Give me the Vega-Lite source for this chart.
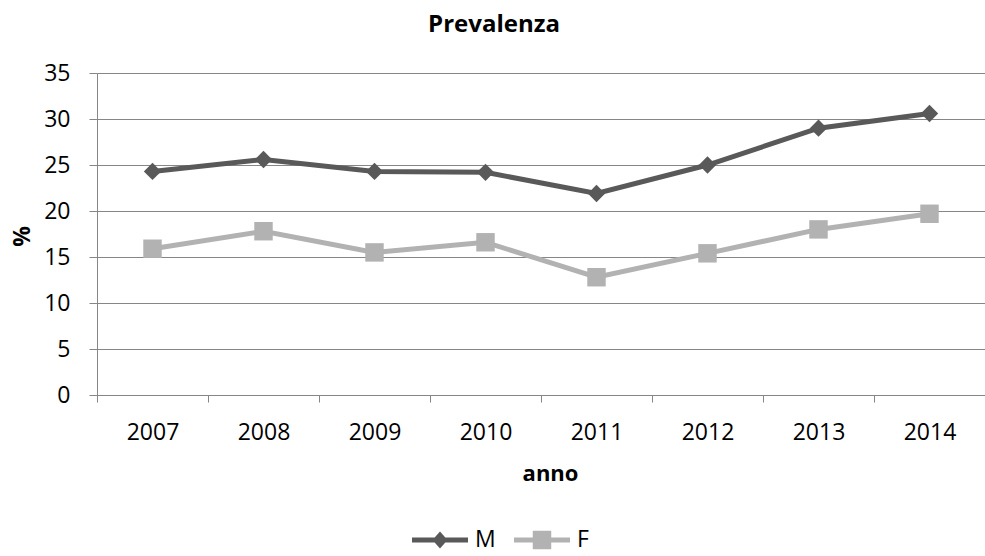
{
  "$schema": "https://vega.github.io/schema/vega-lite/v6.json",
  "autosize": {"type": "none"},
  "width": 888,
  "height": 322,
  "padding": {"left": 97, "top": 73, "right": 0, "bottom": 161},
  "background": "white",
  "title": {
    "text": "Prevalenza",
    "font": "Open Sans",
    "fontSize": 24,
    "fontWeight": "bold",
    "color": "black",
    "anchor": "middle",
    "frame": "group",
    "baseline": "alphabetic",
    "dx": -47,
    "offset": 6
  },
  "data": {
    "values": [
      {"anno": "2007", "serie": "M", "valore": 24.3},
      {"anno": "2008", "serie": "M", "valore": 25.6},
      {"anno": "2009", "serie": "M", "valore": 24.3},
      {"anno": "2010", "serie": "M", "valore": 24.2},
      {"anno": "2011", "serie": "M", "valore": 21.9},
      {"anno": "2012", "serie": "M", "valore": 25.0},
      {"anno": "2013", "serie": "M", "valore": 29.0},
      {"anno": "2014", "serie": "M", "valore": 30.6},
      {"anno": "2007", "serie": "F", "valore": 15.9},
      {"anno": "2008", "serie": "F", "valore": 17.8},
      {"anno": "2009", "serie": "F", "valore": 15.5},
      {"anno": "2010", "serie": "F", "valore": 16.6},
      {"anno": "2011", "serie": "F", "valore": 12.8},
      {"anno": "2012", "serie": "F", "valore": 15.4},
      {"anno": "2013", "serie": "F", "valore": 18.0},
      {"anno": "2014", "serie": "F", "valore": 19.7}
    ]
  },
  "encoding": {
    "x": {
      "field": "anno",
      "type": "ordinal",
      "scale": {"type": "band", "paddingInner": 0, "paddingOuter": 0},
      "axis": {
        "title": "anno",
        "labelAngle": 0,
        "tickBand": "extent",
        "grid": false,
        "tickSize": 7,
        "labelPadding": 19,
        "titleX": 453,
        "titleY": 85,
        "titleAlign": "center",
        "titleBaseline": "alphabetic",
        "titleFontSize": 22
      }
    },
    "y": {
      "field": "valore",
      "type": "quantitative",
      "scale": {"domain": [0, 35], "nice": false},
      "axis": {
        "title": "%",
        "values": [0, 5, 10, 15, 20, 25, 30, 35],
        "grid": true,
        "tickSize": 8,
        "labelPadding": 19,
        "titleX": -75,
        "titleY": 163,
        "titleAngle": -90,
        "titleAlign": "center",
        "titleBaseline": "middle",
        "titleFontSize": 23
      }
    },
    "color": {
      "field": "serie",
      "type": "nominal",
      "scale": {"domain": ["M", "F"], "range": ["#595959", "#b2b2b2"]},
      "legend": {
        "title": null,
        "orient": "none",
        "direction": "horizontal",
        "legendX": 315,
        "legendY": 439,
        "padding": 0,
        "symbolSize": 3136,
        "symbolStrokeWidth": 0,
        "symbolOpacity": 1,
        "labelOffset": 7,
        "columnPadding": 18,
        "labelFont": "Open Sans",
        "labelFontSize": 23,
        "labelColor": "black",
        "encode": {
          "symbols": {
            "update": {
              "shape": {"signal": "datum.value === 'M' ? 'M-1,-0.09L-0.19,-0.09L0,-0.3L0.19,-0.09L1,-0.09L1,0.09L0.19,0.09L0,0.3L-0.19,0.09L-1,0.09Z' : 'M-1,-0.09L-0.33,-0.09L-0.33,-0.33L0.33,-0.33L0.33,-0.09L1,-0.09L1,0.09L0.33,0.09L0.33,0.33L-0.33,0.33L-0.33,0.09L-1,0.09Z'"},
              "fill": {"signal": "datum.value === 'M' ? '#595959' : '#b2b2b2'"}
            }
          }
        }
      }
    }
  },
  "layer": [
    {
      "mark": {"type": "line", "strokeWidth": 5}
    },
    {
      "transform": [{"filter": "datum.serie === 'M'"}],
      "mark": {"type": "point", "shape": "diamond", "filled": true, "opacity": 1, "size": 300}
    },
    {
      "transform": [{"filter": "datum.serie === 'F'"}],
      "mark": {"type": "point", "shape": "square", "filled": true, "opacity": 1, "size": 340}
    }
  ],
  "config": {
    "view": {"stroke": null},
    "axis": {
      "domainColor": "#868686",
      "gridColor": "#868686",
      "tickColor": "#868686",
      "domainWidth": 1,
      "gridWidth": 1,
      "tickWidth": 1,
      "labelColor": "black",
      "labelFont": "Open Sans",
      "labelFontSize": 23,
      "titleColor": "black",
      "titleFont": "Open Sans",
      "titleFontWeight": "bold"
    }
  }
}
